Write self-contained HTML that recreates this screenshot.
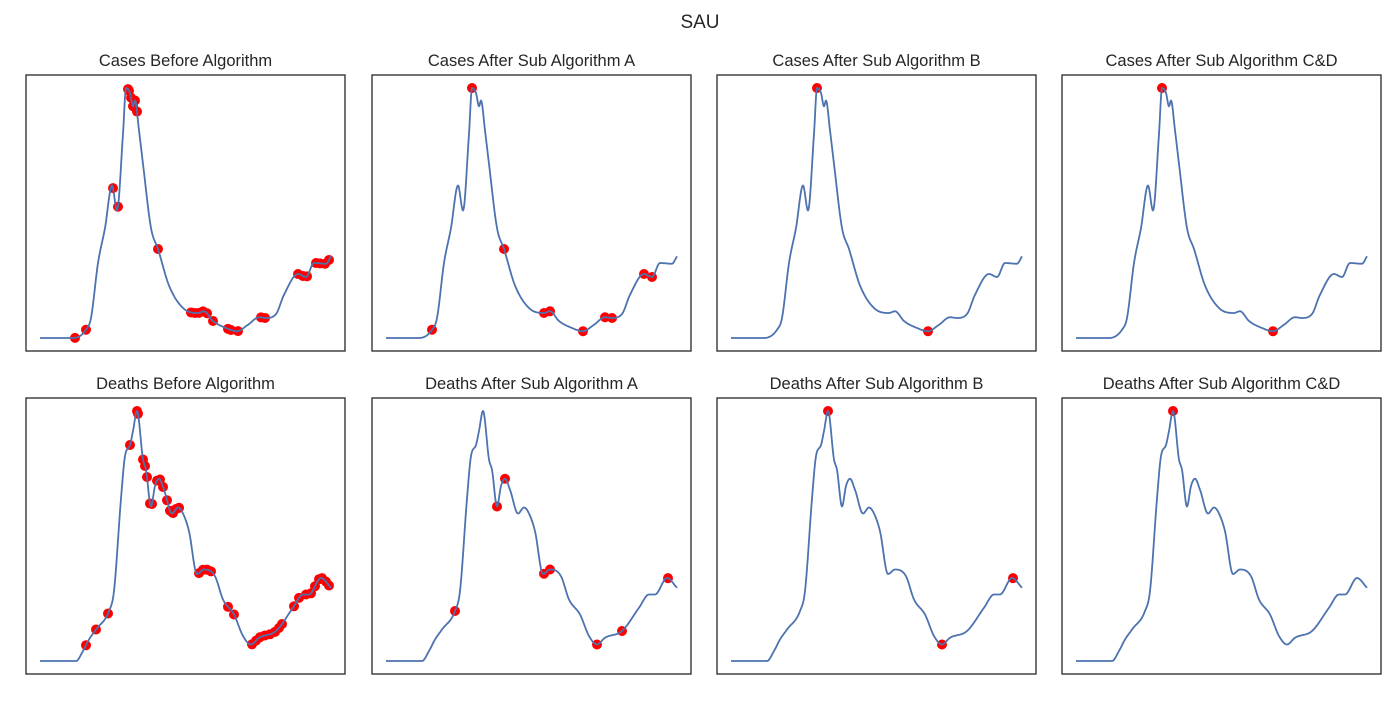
<!DOCTYPE html>
<html><head><meta charset="utf-8"><style>
body{margin:0;background:#fff;width:1400px;height:700px;overflow:hidden;font-family:"Liberation Sans",sans-serif}
</style></head><body>
<svg id="c" width="1400" height="700" xmlns="http://www.w3.org/2000/svg">
<text x="700" y="28" text-anchor="middle" font-size="19" fill="#262626" font-family="Liberation Sans, sans-serif">SAU</text>
</svg>
<script>
const casesT=[0,33,46,51,58,65,72,77,83,86,90,93,95,99,103,111,118,129,143,158,164,173,186,197,208,219,226,236,244,258,266,274,286,291];
const casesV=[0,0,3.3,8,30,44,61,51,81.7,100,98,92.7,95,83,69.6,44,35.6,21,12,10,10.7,6.8,4,2.7,5.3,8.3,8,9.6,17.3,25.6,24.4,30,29.7,32.7];
const deathsT=[0,36,43,49,56,69,74,81,85,90,93,97,103,106,111,115,119,124,132,138,143,149,157,164,175,183,194,203,211,219,236,253,263,269,281,291];
const deathsV=[0,0,4,8.6,12.6,20,28,65,82,86.4,92,100,80.6,76.5,61.8,70,72.9,68.5,59,61.4,59,51.9,34.8,36.6,33.9,24.6,18.6,10,6.6,9.3,12,21.3,26.6,26.6,33.2,29.3];
const casesBeforeMarks=[35,46,73,78,88,89,91,93,95,97,118,151,155,159,163,167,173,188,191,198,221,225,258,263,267,276,280,285,289];
const casesAMarks=[46,86,118,158,164,197,219,226,258,266];
const casesBMarks=[86,197];
const casesCDMarks=[86,197];
const deathsBeforeMarks=[46,56,68,90,97,98,103,105,107,110,112,117,120,123,127,130,133,136,139,159,163,167,171,188,194,212,216,220,225,230,235,239,242,254,259,266,271,275,279,282,286,289];
const deathsAMarks=[69,111,119,158,164,211,236,282];
const deathsBMarks=[97,211,282];
const deathsCDMarks=[97];
const titles=["Cases Before Algorithm","Cases After Sub Algorithm A","Cases After Sub Algorithm B","Cases After Sub Algorithm C&D","Deaths Before Algorithm","Deaths After Sub Algorithm A","Deaths After Sub Algorithm B","Deaths After Sub Algorithm C&D"];
const marks=[casesBeforeMarks,casesAMarks,casesBMarks,casesCDMarks,deathsBeforeMarks,deathsAMarks,deathsBMarks,deathsCDMarks];
const NS="http://www.w3.org/2000/svg";
const svg=document.getElementById('c');
const lefts=[26,372,717,1062],tops=[75,398];
function slopes(T,V){const n=T.length,d=[],m=[];for(let i=0;i<n-1;i++)d.push((V[i+1]-V[i])/(T[i+1]-T[i]));
  m[0]=d[0];m[n-1]=d[n-2];for(let i=1;i<n-1;i++){m[i]=(d[i-1]*d[i]<=0)?0:(d[i-1]+d[i])/2;}
  for(let i=0;i<n-1;i++){if(d[i]===0){m[i]=0;m[i+1]=0;continue;}const a=m[i]/d[i],b=m[i+1]/d[i],s=a*a+b*b;if(s>9){const t=3/Math.sqrt(s);m[i]=t*a*d[i];m[i+1]=t*b*d[i];}}return m;}
function interp(T,V,M,t){let i=1;while(i<T.length-1&&t>T[i])i++;const h=T[i]-T[i-1],s=(t-T[i-1])/h;
  const h00=2*s*s*s-3*s*s+1,h10=s*s*s-2*s*s+s,h01=-2*s*s*s+3*s*s,h11=s*s*s-s*s;
  return h00*V[i-1]+h10*h*M[i-1]+h01*V[i]+h11*h*M[i];}
const casesM=slopes(casesT,casesV),deathsM=slopes(deathsT,deathsV);
for(let k=0;k<8;k++){
  const r=Math.floor(k/4),c=k%4,L=lefts[c],Tp=tops[r];
  const T=r?deathsT:casesT,V=r?deathsV:casesV,M=r?deathsM:casesM;
  const xs=t=>L+14+t;
  const ys=v=>Tp+263-v*2.5;
  const g=document.createElementNS(NS,'g');
  
  
  svg.appendChild(g);
  const rect=document.createElementNS(NS,'rect');
  rect.setAttribute('x',L);rect.setAttribute('y',Tp);rect.setAttribute('width',319);rect.setAttribute('height',276);
  rect.setAttribute('fill','#fff');rect.setAttribute('stroke','#262626');rect.setAttribute('stroke-width','1.3');
  
  
  g.appendChild(rect);
  const tt=document.createElementNS(NS,'text');
  tt.setAttribute('x',L+159.5);tt.setAttribute('y',Tp-9);tt.setAttribute('text-anchor','middle');
  tt.setAttribute('font-size','16.5');tt.setAttribute('fill','#262626');tt.textContent=titles[k];
  
  
  g.appendChild(tt);
  const tEnd=T[T.length-1];let d='';
  for(let t=0;t<=tEnd;t+=0.5){d+=(t?'L':'M')+xs(t).toFixed(1)+' '+ys(interp(T,V,M,t)).toFixed(1);}
  marks[k].forEach(t=>{
    const ci=document.createElementNS(NS,'circle');
    ci.setAttribute('cx',xs(t));ci.setAttribute('cy',ys(interp(T,V,M,t)));ci.setAttribute('r',5);ci.setAttribute('fill','#ff0000');
    
    
    g.appendChild(ci);
  });
  const p=document.createElementNS(NS,'path');
  p.setAttribute('d',d);
  p.setAttribute('fill','none');p.setAttribute('stroke','#4c72b0');p.setAttribute('stroke-width','1.8');p.setAttribute('stroke-linejoin','round');
  
  
  g.appendChild(p);
}
</script>
</body></html>
